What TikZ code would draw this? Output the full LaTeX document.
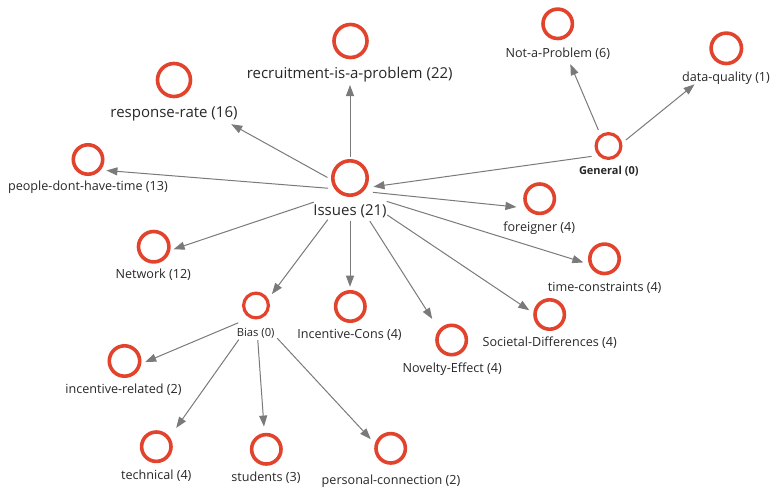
\documentclass[tikz,border=0pt]{standalone}
\usepackage{fontspec}
\setmainfont{Open Sans}
\usetikzlibrary{arrows.meta}
\definecolor{ringred}{RGB}{226,67,45}
\definecolor{edgegray}{RGB}{122,122,122}
\definecolor{labelink}{RGB}{40,40,40}

\begin{document}
\begin{tikzpicture}[x=1pt,y=-1pt,
  ring/.style={circle, draw=ringred, fill=white, line width=3.6pt,
               minimum size=#1, inner sep=0pt},
  ring/.default=29.4pt,
  smallring/.style={ring=24.8pt, line width=3.2pt},
  lbl/.style={text=labelink, inner sep=0pt, font=\fontsize{12.6}{14}\selectfont},
  biglbl/.style={lbl, font=\fontsize{15}{18}\selectfont},
  tinylbl/.style={lbl, font=\fontsize{11.2}{13}\selectfont},
  edge/.style={draw=edgegray, line width=1pt,
               -{Triangle[length=11pt,width=8pt]}},
]
\path[use as bounding box, fill=white] (0,0) rectangle (778,490);

% centres of each circle-plus-caption group; connectors run between them
\coordinate (iss-g)  at (350,190);
\coordinate (rec-g)  at (350,53);
\coordinate (rsp-g)  at (174,92.5);
\coordinate (ppl-g)  at (81.5,168.5);
\coordinate (net-g)  at (153.5,256);
\coordinate (bias-g) at (256,315.3);
\coordinate (inc-g)  at (350,316);
\coordinate (nov-g)  at (452,350);
\coordinate (soc-g)  at (549.7,324);
\coordinate (tim-g)  at (604.6,269);
\coordinate (for-g)  at (539.5,209.4);
\coordinate (gen-g)  at (608.6,154);
\coordinate (nap-g)  at (557.7,34.4);
\coordinate (dq-g)   at (726.3,58.6);
\coordinate (incr-g) at (124,371);
\coordinate (tec-g)  at (156.3,456);
\coordinate (stu-g)  at (266.3,459);
\coordinate (per-g)  at (391,461);

% connectors
\draw[edge, shorten <=33.3pt, shorten >=32pt]   (iss-g) -- (rec-g);
\draw[edge, shorten <=25.8pt, shorten >=65.4pt] (iss-g) -- (rsp-g);
\draw[edge, shorten <=22pt,   shorten >=25pt]   (iss-g) -- (ppl-g);
\draw[edge, shorten <=38.2pt, shorten >=21.2pt] (iss-g) -- (net-g);
\draw[edge, shorten <=37pt,   shorten >=26.5pt] (iss-g) -- (bias-g);
\draw[edge, shorten <=30.7pt, shorten >=29.3pt] (iss-g) -- (inc-g);
\draw[edge, shorten <=37pt,   shorten >=36.8pt] (iss-g) -- (nov-g);
\draw[edge, shorten <=44.8pt, shorten >=24.6pt] (iss-g) -- (soc-g);
\draw[edge, shorten <=38.4pt, shorten >=22.2pt] (iss-g) -- (tim-g);
\draw[edge, shorten <=23pt,   shorten >=23.2pt] (iss-g) -- (for-g);
\draw[edge, shorten <=17.1pt, shorten >=23.7pt] (gen-g) -- (iss-g);
\draw[edge, shorten <=26.1pt, shorten >=32.3pt] (gen-g) -- (nap-g);
\draw[edge, shorten <=22.1pt, shorten >=40.9pt] (gen-g) -- (dq-g);
\draw[edge, shorten <=19.3pt, shorten >=23pt]   (bias-g) -- (incr-g);
\draw[edge, shorten <=29.8pt, shorten >=34.4pt] (bias-g) -- (tec-g);
\draw[edge, shorten <=24.8pt, shorten >=32.5pt] (bias-g) -- (stu-g);
\draw[edge, shorten <=31.2pt, shorten >=29.8pt] (bias-g) -- (per-g);

% circles
\node[ring=34.4pt] (iss)  at (350,178) {};
\node[ring=33pt]   (rec)  at (350.5,41) {};
\node[ring=33pt]   (rsp)  at (174,80) {};
\node[ring]        (ppl)  at (88,159.5) {};
\node[ring=30.4pt] (net)  at (153.7,246.7) {};
\node[smallring]   (bias) at (256,305.5) {};
\node[ring]        (inc)  at (350.3,306.5) {};
\node[ring]        (nov)  at (451.7,340) {};
\node[ring]        (soc)  at (549.7,314.5) {};
\node[ring]        (tim)  at (604.5,258.8) {};
\node[ring]        (for)  at (539.7,198.7) {};
\node[smallring]   (gen)  at (608.5,146) {};
\node[ring]        (nap)  at (557.7,23.8) {};
\node[ring=30.4pt] (dq)   at (726.3,48.3) {};
\node[ring=30.4pt] (incr) at (124.5,361) {};
\node[ring]        (tec)  at (156.3,446.7) {};
\node[ring]        (stu)  at (266.3,449.3) {};
\node[ring]        (per)  at (390.7,448.3) {};

% captions
\node[biglbl] (iss-t) at (350,211.7) {Issues (21)};
\node[biglbl] (rec-t) at (349.7,75) {recruitment-is-a-problem (22)};
\node[biglbl] (rsp-t) at (174,114.3) {response-rate (16)};
\node[lbl, anchor=east] (ppl-t) at (168,187.3) {people-dont-have-time (13)};
\node[lbl] (net-t)  at (153.3,275) {Network (12)};
\node[tinylbl] (bias-t) at (255.7,333.3) {Bias (0)};
\node[lbl] (inc-t)  at (349.5,335) {Incentive-Cons (4)};
\node[lbl] (nov-t)  at (452.2,368.7) {Novelty-Effect (4)};
\node[lbl] (soc-t)  at (549.7,342.7) {Societal-Differences (4)};
\node[lbl] (tim-t)  at (604.7,287.7) {time-constraints (4)};
\node[lbl] (for-t)  at (539.2,228.3) {foreigner (4)};
\node[tinylbl, font=\fontsize{11}{13}\selectfont\bfseries] (gen-t) at (608.8,170.7) {General (0)};
\node[lbl] (nap-t)  at (557.8,53.3) {Not-a-Problem (6)};
\node[lbl] (dq-t)   at (726,78.3) {data-quality (1)};
\node[lbl] (incr-t) at (123.5,390) {incentive-related (2)};
\node[lbl] (tec-t)  at (156.3,475.3) {technical (4)};
\node[lbl] (stu-t)  at (266,477.7) {students (3)};
\node[lbl] (per-t)  at (391,481) {personal-connection (2)};
\end{tikzpicture}
\end{document}
